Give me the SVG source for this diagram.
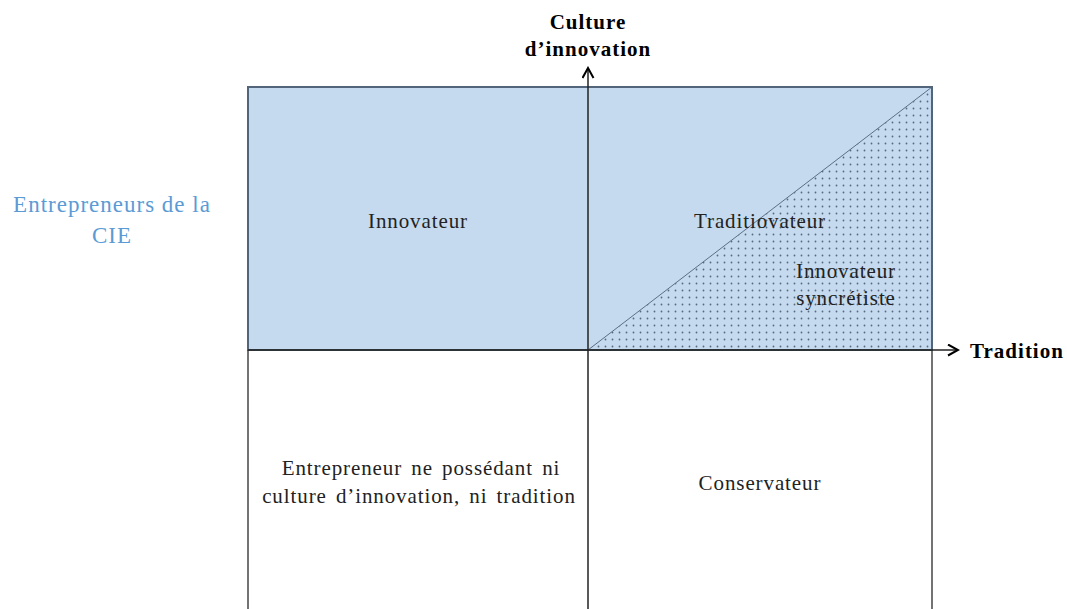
<svg xmlns="http://www.w3.org/2000/svg" width="1067" height="609" viewBox="0 0 1067 609">
<style>
.t{font-family:"Liberation Serif",serif;font-size:21px;letter-spacing:0.9px;word-spacing:3px;fill:#222;text-anchor:middle}
.b{font-family:"Liberation Serif",serif;font-size:21px;letter-spacing:1px;font-weight:bold;fill:#000;text-anchor:middle}
.ln{stroke:#444;stroke-width:1.5;fill:none}
</style>
<defs>
<pattern id="dots" width="7" height="7" patternUnits="userSpaceOnUse">
<rect width="7" height="7" fill="#c5daee"/>
<circle cx="3.5" cy="3.5" r="0.9" fill="#55697f"/>
</pattern>
<marker id="arr" markerWidth="13" markerHeight="13" refX="11" refY="6.5" orient="auto" markerUnits="userSpaceOnUse">
<path d="M1,1 L11,6.5 L1,12" fill="none" stroke="#000" stroke-width="2"/>
</marker>
</defs>
<rect width="1067" height="609" fill="#fff"/>
<g id="quadrant-top">
<rect x="248" y="87" width="684" height="263" fill="#c5daee"/>
<polygon points="588,350 932,87 932,350" fill="url(#dots)"/>
<line x1="588" y1="350" x2="932" y2="87" stroke="#5a6f86" stroke-width="1"/>
<rect x="248" y="87" width="684" height="263" fill="none" stroke="#52657a" stroke-width="2"/>
</g>
<g id="quadrant-bottom">
<line class="ln" x1="248" y1="350" x2="248" y2="609"/>
<line class="ln" x1="932" y1="350" x2="932" y2="609"/>
</g>
<g id="connectors">
<line x1="588" y1="609" x2="588" y2="68" stroke="#222" stroke-width="1.5" marker-end="url(#arr)"/>
<line x1="248" y1="350" x2="958" y2="350" stroke="#222" stroke-width="1.5" marker-end="url(#arr)"/>
</g>
<g id="axis-y-label">
<text class="b" x="588" y="29">Culture</text>
<text class="b" x="588" y="56">d’innovation</text>
</g>
<g id="axis-x-label"><text class="b" x="1017" y="358">Tradition</text></g>
<g id="cie-label">
<text x="112" y="212" font-family="Liberation Serif, serif" font-size="23" letter-spacing="1" fill="#5b9bd5" text-anchor="middle">Entrepreneurs de la</text>
<text x="112" y="243" font-family="Liberation Serif, serif" font-size="23" letter-spacing="1" fill="#5b9bd5" text-anchor="middle">CIE</text>
</g>
<g id="innovateur"><text class="t" x="418" y="228">Innovateur</text></g>
<g id="traditiovateur"><text class="t" x="760" y="228">Traditiovateur</text></g>
<g id="syncretiste">
<text class="t" x="846" y="278">Innovateur</text>
<text class="t" x="846" y="305">syncrétiste</text>
</g>
<g id="neither">
<text class="t" x="421" y="475">Entrepreneur ne possédant ni</text>
<text class="t" x="419" y="503" letter-spacing="0.8">culture d’innovation, ni tradition</text>
</g>
<g id="conservateur"><text class="t" x="760" y="490">Conservateur</text></g>
</svg>
